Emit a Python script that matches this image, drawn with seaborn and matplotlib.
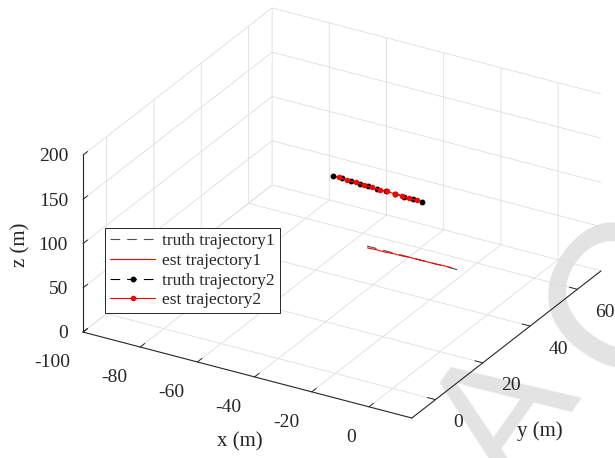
import numpy as np
import matplotlib
matplotlib.use('Agg')
import matplotlib.pyplot as plt
import seaborn as sns

# target 1 (no markers)
truth1_x = [-24.8, -21.6, -18.4, -15.2, -12.0, -8.8, -5.6, -2.4, 0.8, 4.0, 7.2]
truth1_y = [19.2, 19.2, 19.2, 19.2, 19.2, 19.2, 19.2, 19.2, 19.2, 19.2, 19.2]
truth1_z = [100, 100, 100, 100, 100, 100, 100, 100, 100, 100, 100]
est1_x = [-24.5, -21.5, -18.4, -15.4, -12.3, -9.3, -6.3, -3.3, -0.3, 2.2, 4.6]
est1_y = [19.0, 19.1, 19.0, 19.2, 19.1, 19.3, 19.2, 19.3, 19.2, 19.4, 19.3]
est1_z = [98.6, 98.9, 99.1, 99.2, 99.5, 99.6, 99.8, 99.7, 100.1, 100.0, 100.2]

# target 2 (dot markers)
truth2_x = [-42.5, -39.3, -36.1, -32.9, -29.7, -26.5, -23.3, -20.1, -16.9, -13.7, -10.5]
truth2_y = [26.1, 26.0, 25.9, 25.8, 25.7, 25.6, 25.5, 25.4, 25.3, 25.2, 25.1]
truth2_z = [150, 150, 150, 150, 150, 150, 150, 150, 150, 150, 150]
est2_x = [-40.2, -37.3, -34.1, -31.4, -28.5, -25.6, -22.9, -20.1, -17.7, -15.1, -12.2]
est2_y = [26.0, 25.9, 25.8, 25.8, 25.6, 25.6, 25.4, 25.4, 25.3, 25.2, 25.1]
est2_z = [150.4, 149.7, 150.6, 149.8, 150.3, 149.6, 150.5, 149.9, 150.2, 149.7, 150.1]

labels = ['truth trajectory1', 'est trajectory1', 'truth trajectory2', 'est trajectory2']
x_ticks = [-100, -80, -60, -40, -20, 0]
y_ticks = [0, 20, 40, 60]
z_ticks = [0, 50, 100, 150, 200]
xlim = (-100, 15)
ylim = (-10, 70)
zlim = (0, 200)

sns.set_theme(style='white')
plt.rcParams['font.family'] = ['Liberation Serif', 'DejaVu Serif']
plt.rcParams.update({
    'grid.color': '#dedede',
    'grid.linewidth': 0.6,
    'axes.edgecolor': '#262626',
    'axes.linewidth': 0.8,
    'axes.unicode_minus': False,
    'xtick.major.width': 0.7,
    'ytick.major.width': 0.7,
    'xtick.color': '#262626',
    'ytick.color': '#262626',
    'lines.scale_dashes': False,
})

W, H = 615, 458
fig = plt.figure(figsize=(W / 100, H / 100), dpi=100)
fig.patch.set_facecolor('white')

# faint watermark behind the plot (only "A" and the first "C" fall inside the picture)
wm = dict(rotation=55, rotation_mode='anchor', ha='left', va='baseline',
          color='#e3e3e3', family=['Liberation Sans', 'DejaVu Sans'], zorder=-1)
fig.text(514 / W, -38 / H, 'A', fontsize=130, **wm)
fig.text(636 / W, 56 / H, 'CCEPTED MANUSCRIPT', fontsize=150, **wm)

ax = fig.add_subplot(projection='3d', proj_type='ortho')
ax.view_init(elev=26.8, azim=-59.9)
ax.set_box_aspect((1.917, 1.902, 1.0))
ax.patch.set_alpha(0)
for axis in (ax.xaxis, ax.yaxis, ax.zaxis):
    axis.set_pane_color((1, 1, 1, 0))
    axis.pane.set_edgecolor((1, 1, 1, 0))
    axis._axinfo['tick']['inward_factor'] = 0.0
    axis._axinfo['tick']['outward_factor'] = 0.3
ax.zaxis.set_ticks_position('lower')
ax.zaxis.set_label_position('lower')

dash = (0, (7, 5))
h1, = ax.plot(truth1_x, truth1_y, truth1_z, color='#505050', lw=0.8, linestyle=dash)
h2, = ax.plot(est1_x, est1_y, est1_z, color='red', lw=0.8)
h3, = ax.plot(truth2_x, truth2_y, truth2_z, color='black', lw=0.8, linestyle=dash,
              marker='o', ms=3.2)
h4, = ax.plot(est2_x, est2_y, est2_z, color='red', lw=0.8, marker='o', ms=3.0)

ax.set_xlim(xlim)
ax.set_ylim(ylim)
ax.set_zlim(zlim)
ax.set_xticks(x_ticks)
ax.set_yticks(y_ticks)
ax.set_zticks(z_ticks)
ax.tick_params(labelsize=14, colors='#262626')
ax.tick_params(axis='x', pad=6)
ax.tick_params(axis='z', pad=-2)
plt.setp(ax.get_xticklabels(), ha='right')
plt.setp(ax.get_yticklabels(), ha='left')
plt.setp(ax.get_zticklabels(), ha='right', va='center')

# place the projected box where the reference has it
fig.canvas.draw()
corners = np.array([[xlim[0], ylim[0], zlim[0]], [xlim[1], ylim[0], zlim[0]],
                    [xlim[1], ylim[1], zlim[0]], [xlim[0], ylim[1], zlim[1]],
                    [xlim[0], ylim[0], zlim[1]]], dtype=float)
target = np.array([[83, 332], [412, 418], [601, 271], [272, 8], [83, 155]], dtype=float)
M = ax.get_proj()
hom = np.c_[corners, np.ones(len(corners))] @ M.T
xy = np.c_[hom[:, 0] / hom[:, 3], hom[:, 1] / hom[:, 3]]
frac = ax.transAxes.inverted().transform(ax.transData.transform(xy))
A = []
b = []
for (fx, fy), (tx, ty) in zip(frac, target):
    A.append([1, 0, fx]); b.append(tx)
    A.append([0, 1, fy]); b.append(H - ty)
ox, oy, S = np.linalg.lstsq(np.array(A), np.array(b), rcond=None)[0]
ax.set_position([ox / W, oy / H, S / W, S / H])

fig.text(240 / W, 1 - 442 / H, 'x (m)', ha='center', va='center', fontsize=15, color='#262626')
fig.text(540 / W, 1 - 431 / H, 'y (m)', ha='center', va='center', fontsize=15, color='#262626')
fig.text(21 / W, 1 - 245 / H, 'z (m)', ha='center', va='center', fontsize=15,
         rotation=90, color='#262626')

leg = ax.legend([h1, h2, h3, h4], labels, loc='upper left',
                bbox_to_anchor=(105 / W, 1 - 228 / H), bbox_transform=fig.transFigure,
                borderaxespad=0, fontsize=12.5, frameon=True, fancybox=False,
                framealpha=1, handlelength=2.6, handletextpad=0.4,
                labelspacing=0.2, borderpad=0.3)
leg.get_frame().set_edgecolor('#262626')
leg.get_frame().set_linewidth(0.7)

fig.savefig('out.png', dpi=100)
